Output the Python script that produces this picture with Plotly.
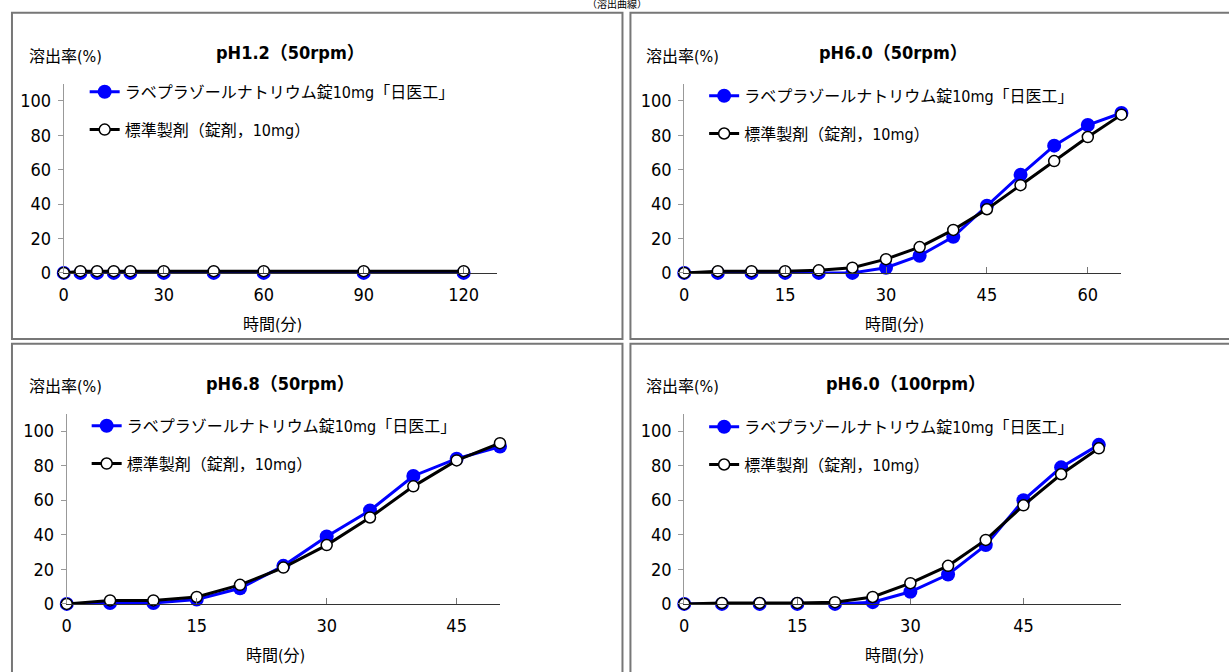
import plotly.graph_objects as go

W, H = 1229, 672

# ---------------- data ----------------
test_name = "ラベプラゾールナトリウム錠10mg「日医工」"
ref_name = "標準製剤（錠剤，10mg）"

# pH1.2 (50rpm)
t1 = [0, 5, 10, 15, 20, 30, 45, 60, 90, 120]
test1 = [0, 0, 0, 0, 0, 0, 0, 0, 0, 0]
ref1 = [0, 1, 1, 1, 1, 1, 1, 1, 1, 1]

# pH6.0 (50rpm)
t2 = [0, 5, 10, 15, 20, 25, 30, 35, 40, 45, 50, 55, 60, 65]
test2 = [0, 0, 0, 0, 0, 0, 3, 10, 21, 39, 57, 74, 86, 93]
ref2 = [0, 1, 1, 1, 1.5, 3, 8, 15, 25, 37, 51, 65, 79, 92]

# pH6.8 (50rpm)
t3 = [0, 5, 10, 15, 20, 25, 30, 35, 40, 45, 50]
test3 = [0, 0.5, 0.5, 2.5, 9, 22, 39, 54, 74, 84, 91]
ref3 = [0, 2, 2, 4, 11, 21, 34, 50, 68, 83, 93]

# pH6.0 (100rpm)
t4 = [0, 5, 10, 15, 20, 25, 30, 35, 40, 45, 50, 55]
test4 = [0, 0, 0, 0, 0, 1, 7, 17, 34, 60, 79, 92]
ref4 = [0, 0.5, 0.5, 0.5, 1, 4, 12, 22, 37, 57, 75, 90]

titles = ["pH1.2（50rpm）", "pH6.0（50rpm）", "pH6.8（50rpm）", "pH6.0（100rpm）"]
xmax = [130, 65, 50, 58]
xticks = [[0, 30, 60, 90, 120], [0, 15, 30, 45, 60], [0, 15, 30, 45], [0, 15, 30, 45]]
yticks = [0, 20, 40, 60, 80, 100]
ymax = 110
ylabel = "溶出率(%)"
xlabel = "時間(分)"
main_title = "（溶出曲線）"

times = [t1, t2, t3, t4]
tests = [test1, test2, test3, test4]
refs = [ref1, ref2, ref3, ref4]

# ---------------- layout (pixels) ----------------
FONT = "DejaVu Sans Condensed, Liberation Sans Narrow, Noto Sans CJK JP, sans-serif"
# plot areas: x0, x1, ytop, ybottom
areas = [(59, 494, 85, 277), (682, 1121, 85, 277), (62, 497, 420, 613), (682, 1121, 420, 613)]
# panel boxes
boxes = [(7, 620, 13, 344), (628, 1240, 13, 344), (7, 620, 349, 690), (628, 1240, 349, 690)]
# legend top-left
legpos = [(80, 76), (702, 80), (82, 415), (702, 416)]
ylab_x = [22, 642, 22, 642]
ylab_y = [57, 57, 392, 392]
title_c = [(287, 53), (892, 53), (277, 389), (905, 389)]


def px(x):
    return x / W


def py(y):
    return 1 - y / H


fig = go.Figure()
layout = dict(
    width=W, height=H,
    margin=dict(l=0, r=0, t=0, b=0),
    paper_bgcolor="white", plot_bgcolor="white",
    font=dict(family=FONT, size=16, color="black"),
    showlegend=True,
    shapes=[], annotations=[],
)

for i in range(4):
    n = "" if i == 0 else str(i + 1)
    xa, ya = "x" + n, "y" + n
    lg = "legend" + n
    x0, x1, yt, yb = areas[i]
    fig.add_trace(go.Scatter(
        x=times[i], y=tests[i], xaxis=xa, yaxis=ya, name=test_name,
        mode="lines+markers", legend=lg, legendgroup="a%d" % i,
        line=dict(color="#0000ff", width=3),
        marker=dict(size=14, color="#0000ff"),
        cliponaxis=False,
    ))
    fig.add_trace(go.Scatter(
        x=times[i], y=refs[i], xaxis=xa, yaxis=ya, name=ref_name,
        mode="lines+markers", legend=lg, legendgroup="b%d" % i,
        line=dict(color="black", width=3),
        marker=dict(size=11, color="white", line=dict(color="black", width=1.5)),
        cliponaxis=False,
    ))
    layout["xaxis" + n] = dict(
        domain=[px(x0), px(x1)], anchor=ya, range=[0, xmax[i]],
        tickvals=xticks[i], ticks="inside", ticklen=6, tickcolor="#777",
        showline=True, linecolor="#333", linewidth=1, showgrid=False, zeroline=False,
        tickfont=dict(size=18, family=FONT), fixedrange=True, ticklabelstandoff=6,
    )
    layout["yaxis" + n] = dict(
        domain=[py(yb), py(yt)], anchor=xa, range=[0, ymax],
        tickvals=yticks, ticks="outside", ticklen=5, tickcolor="#999",
        showline=True, linecolor="#999", linewidth=1, showgrid=False, zeroline=False,
        tickfont=dict(size=18, family=FONT), fixedrange=True, ticklabelstandoff=3,
    )
    lx, ly = legpos[i]
    layout[lg] = dict(
        x=px(lx), y=py(ly), xanchor="left", yanchor="top",
        bgcolor="rgba(0,0,0,0)", font=dict(size=16, family=FONT),
        tracegroupgap=14, traceorder="grouped",
    )
    bx0, bx1, by0, by1 = boxes[i]
    layout["shapes"].append(dict(
        type="rect", xref="paper", yref="paper",
        x0=px(bx0), x1=px(bx1), y0=py(by1), y1=py(by0),
        line=dict(color="#777", width=2), fillcolor="rgba(0,0,0,0)",
    ))
    layout["annotations"].append(dict(
        text=ylabel, xref="paper", yref="paper", x=px(ylab_x[i]), y=py(ylab_y[i]),
        xanchor="left", yanchor="middle", showarrow=False,
        font=dict(size=16, family=FONT),
    ))
    tcx, tcy = title_c[i]
    layout["annotations"].append(dict(
        text="<b>" + titles[i] + "</b>", xref="paper", yref="paper", x=px(tcx), y=py(tcy),
        xanchor="center", yanchor="middle", showarrow=False,
        font=dict(size=18, family=FONT),
    ))
    layout["annotations"].append(dict(
        text=xlabel, xref="paper", yref="paper", x=px((x0 + x1) / 2 - 8), y=py(yb + 52),
        xanchor="center", yanchor="middle", showarrow=False,
        font=dict(size=16, family=FONT),
    ))

layout["annotations"].append(dict(
    text=main_title, xref="paper", yref="paper", x=px(614), y=py(12),
    xanchor="center", yanchor="bottom", showarrow=False,
    font=dict(size=10, family=FONT),
))

fig.update_layout(**layout)
fig.write_html(
    "out.html",
    config={"displayModeBar": False},
    post_script="document.body.style.margin='0';document.body.style.overflow='hidden';",
)
